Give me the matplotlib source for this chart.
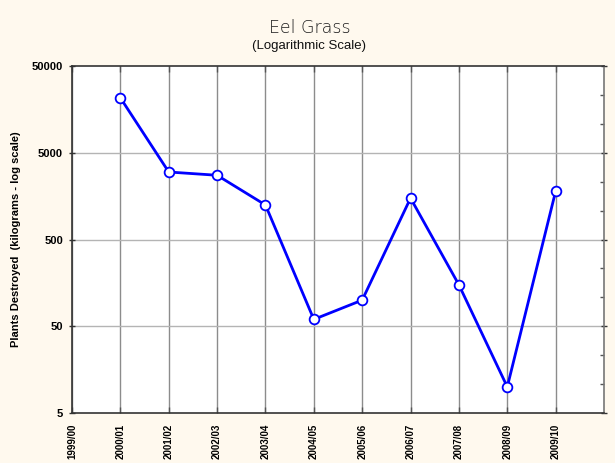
import matplotlib
matplotlib.use("Agg")
import matplotlib.pyplot as plt
import numpy as np
from matplotlib.ticker import FixedLocator, NullFormatter

categories = ["1999/00", "2000/01", "2001/02", "2002/03", "2003/04", "2004/05",
              "2005/06", "2006/07", "2007/08", "2008/09", "2009/10"]
data_years = ["2000/01", "2001/02", "2002/03", "2003/04", "2004/05",
              "2005/06", "2006/07", "2007/08", "2008/09", "2009/10"]
values = [21500, 3000, 2750, 1250, 60, 100, 1500, 150, 10, 1800]
y_ticks = [5, 50, 500, 5000, 50000]

plt.rcParams['font.family'] = ['Liberation Sans', 'DejaVu Sans']

fig = plt.figure(figsize=(6.15, 4.63), dpi=100)
bg = '#fff9ee'
fig.patch.set_facecolor(bg)
ax = fig.add_axes([72/615, 1-413/463, (604-72)/615, (413-66)/463])
ax.set_facecolor('white')

xpos = [categories.index(c) for c in data_years]
ax.set_yscale('log')
ax.set_xlim(0, len(categories))
ax.set_ylim(y_ticks[0], y_ticks[-1])

# gridlines
for i in range(len(categories)):
    ax.axvline(i, color='#8c8c8c', lw=1.0, zorder=1)
for t in y_ticks[1:-1]:
    ax.axhline(t, color='#b4b4b4', lw=1.0, zorder=1)

ax.plot(xpos, values, color='#0000ff', lw=2.0, marker='o', markersize=7,
        markerfacecolor='white', markeredgecolor='#0000ff', markeredgewidth=1.3,
        zorder=3, clip_on=False)

ax.set_xticks(range(len(categories)))
ax.set_xticklabels(categories, rotation=90, fontsize=7, fontweight='bold')
ax.set_yticks(y_ticks)
ax.set_yticklabels([str(t) for t in y_ticks], fontsize=8, fontweight='bold')
minor = []
for k in range(len(y_ticks)-1):
    lo = np.log10(y_ticks[k])
    minor += [10**(lo + 1/3), 10**(lo + 2/3)]
ax.yaxis.set_minor_locator(FixedLocator(minor))
ax.yaxis.set_minor_formatter(NullFormatter())
ax.tick_params(axis='y', which='major', left=True, right=True, direction='inout',
               length=5, width=1, color='#333333', pad=4)
ax.tick_params(axis='y', which='minor', left=False, right=True, direction='in',
               length=3, width=1, color='#555555')
ax.tick_params(axis='x', which='major', bottom=True, top=True, direction='in',
               length=4, width=1, color='#555555', pad=8)
for s in ax.spines.values():
    s.set_color('#333333')
    s.set_linewidth(1.2)
ax.spines['right'].set_color('#777777')

ax.set_ylabel('Plants Destroyed  (kilograms - log scale)', fontsize=8,
              fontweight='bold', labelpad=8)

fig.text(0.503, 1-28/463, 'Eel Grass', ha='center', va='center', fontsize=12.5,
         family=['DejaVu Sans'], fontweight='light', color='#1a1a1a')
fig.text(0.503, 1-46/463, '(Logarithmic Scale)', ha='center', va='center',
         fontsize=9.5, color='#111111')

fig.savefig('out.png', dpi=100, facecolor=bg)
